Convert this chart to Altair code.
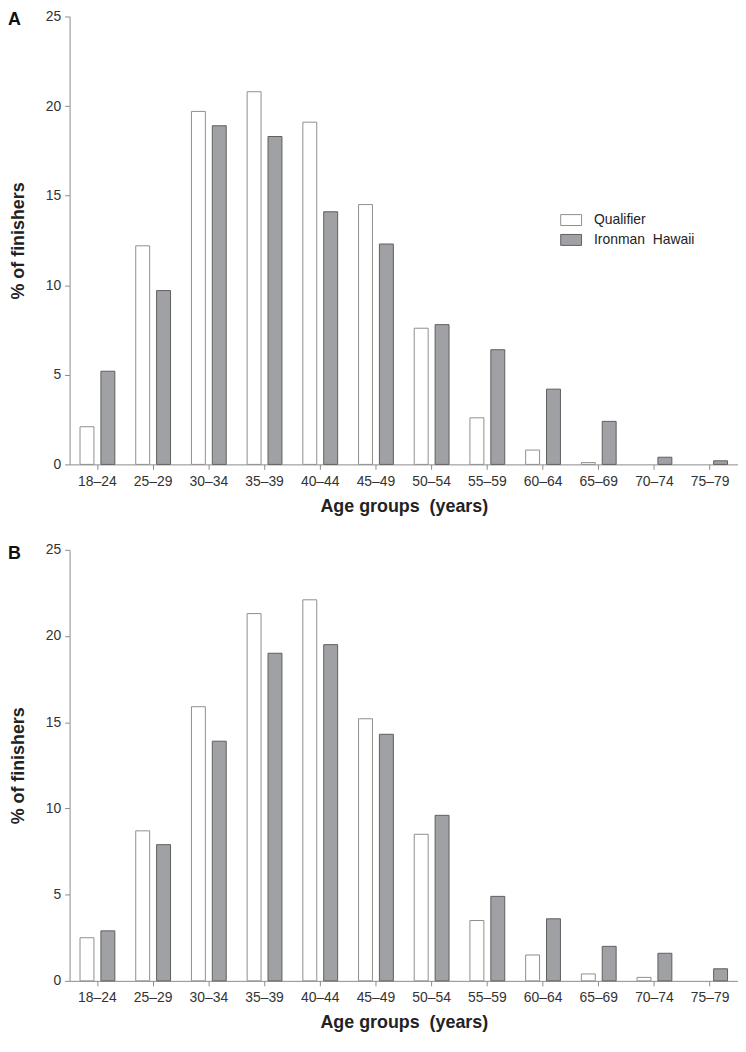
import altair as alt
import pandas as pd

age_groups = ["18–24", "25–29", "30–34", "35–39", "40–44", "45–49",
              "50–54", "55–59", "60–64", "65–69", "70–74", "75–79"]
series_names = ["Qualifier", "Ironman\u00a0 Hawaii"]

a_qualifier = [2.1, 12.2, 19.7, 20.8, 19.1, 14.5, 7.6, 2.6, 0.8, 0.1, 0.0, 0.0]
a_ironman = [5.2, 9.7, 18.9, 18.3, 14.1, 12.3, 7.8, 6.4, 4.2, 2.4, 0.4, 0.2]
b_qualifier = [2.5, 8.7, 15.9, 21.3, 22.1, 15.2, 8.5, 3.5, 1.5, 0.4, 0.2, 0.0]
b_ironman = [2.9, 7.9, 13.9, 19.0, 19.5, 14.3, 9.6, 4.9, 3.6, 2.0, 1.6, 0.7]
y_ticks = [0, 5, 10, 15, 20, 25]

FONT = "Liberation Sans"
fill_colors = ["#ffffff", "#a0a1a5"]
stroke_colors = ["#8e8e8e", "#5f5f5f"]


def make_df(q, i):
    rows = []
    for k, g in enumerate(age_groups):
        rows.append({"age": g, "series": series_names[0], "value": q[k]})
        rows.append({"age": g, "series": series_names[1], "value": i[k]})
    return pd.DataFrame(rows)


def panel(q, i, letter, h, show_legend):
    df = make_df(q, i)
    if show_legend:
        leg = alt.Legend(
            title=None, orient="none", legendX=494, legendY=194,
            symbolType="M-1,-0.524L1,-0.524L1,0.524L-1,0.524Z",
            symbolSize=441, symbolStrokeWidth=1,
            labelFont=FONT, labelFontSize=14, labelColor="#222",
            labelOffset=12, rowPadding=1,
        )
    else:
        leg = None
    bars = alt.Chart(df).transform_filter("datum.value > 0").mark_bar(
        strokeWidth=1
    ).encode(
        x=alt.X("age:N", sort=age_groups,
                scale=alt.Scale(domain=age_groups, paddingInner=0.375, paddingOuter=0.1875),
                axis=alt.Axis(title="Age groups\u00a0 (years)", labelAngle=0,
                              labelPadding=5, titlePadding=9)),
        xOffset=alt.XOffset("series:N", sort=series_names,
                            scale=alt.Scale(domain=series_names, paddingInner=0.333, paddingOuter=0)),
        y=alt.Y("value:Q", scale=alt.Scale(domain=[0, 25], nice=False),
                axis=alt.Axis(values=y_ticks, title="% of finishers",
                              labelPadding=4, titlePadding=18)),
        fill=alt.Fill("series:N", sort=series_names,
                      scale=alt.Scale(domain=series_names, range=fill_colors), legend=leg),
        stroke=alt.Stroke("series:N", sort=series_names,
                          scale=alt.Scale(domain=series_names, range=stroke_colors), legend=leg),
    )
    lab = alt.Chart(pd.DataFrame({"t": [letter]})).mark_text(
        align="left", baseline="top", fontSize=18, fontWeight="bold",
        font=FONT, color="#111"
    ).encode(text="t:N", x=alt.value(-62), y=alt.value(-5))
    return alt.layer(bars, lab).properties(width=673, height=h).resolve_scale(
        fill="independent", stroke="independent")


top = panel(a_qualifier, a_ironman, "A", 451, True)
bottom = panel(b_qualifier, b_ironman, "B", 434, False)

chart = alt.vconcat(top, bottom, spacing=28).resolve_scale(
    fill="independent", stroke="independent"
).properties(
    padding={"left": 0, "top": -2, "right": 0, "bottom": 0}
).configure_view(stroke=None).configure_axis(
    grid=False, domainColor="#8c8c8c", tickColor="#8c8c8c", tickSize=5,
    labelFont=FONT, labelFontSize=14, labelColor="#333",
    titleFont=FONT, titleFontSize=18, titleFontWeight="bold", titleColor="#222",
)

chart.save("out.html", embed_options={"renderer": "svg", "actions": False})
